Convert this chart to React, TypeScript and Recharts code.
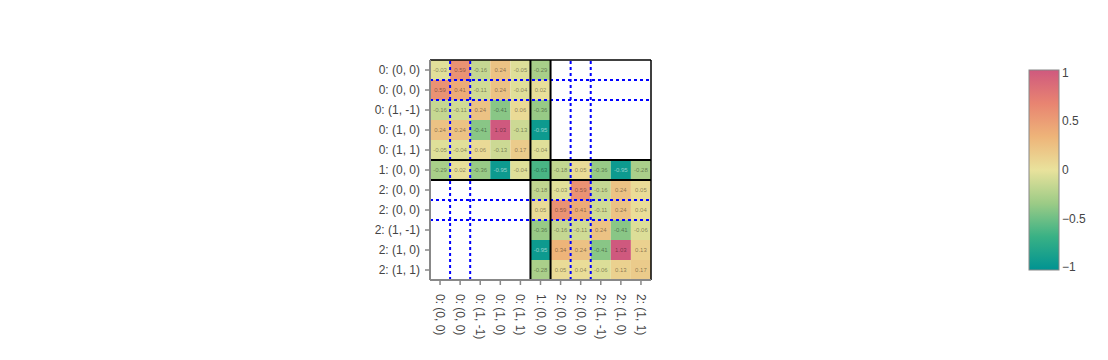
import React from 'react'
import {
  ScatterChart,
  Scatter,
  XAxis,
  YAxis,
  ReferenceArea,
  ReferenceLine,
} from 'recharts'

const labels = [
  '0: (0, 0)',
  '0: (0, 0)',
  '0: (1, -1)',
  '0: (1, 0)',
  '0: (1, 1)',
  '1: (0, 0)',
  '2: (0, 0)',
  '2: (0, 0)',
  '2: (1, -1)',
  '2: (1, 0)',
  '2: (1, 1)',
]

const _ = null
const row0 = [-0.03, 0.59, -0.16, 0.24, -0.05, -0.29, _, _, _, _, _]
const row1 = [0.59, 0.41, -0.11, 0.24, -0.04, 0.02, _, _, _, _, _]
const row2 = [-0.16, -0.11, 0.24, -0.41, 0.06, -0.36, _, _, _, _, _]
const row3 = [0.24, 0.24, -0.41, 1.03, -0.13, -0.95, _, _, _, _, _]
const row4 = [-0.05, -0.04, 0.06, -0.13, 0.17, -0.04, _, _, _, _, _]
const row5 = [-0.29, 0.02, -0.36, -0.95, -0.04, -0.63, -0.18, 0.05, -0.36, -0.95, -0.28]
const row6 = [_, _, _, _, _, -0.18, -0.03, 0.59, -0.16, 0.24, 0.05]
const row7 = [_, _, _, _, _, 0.05, 0.59, 0.41, -0.11, 0.24, 0.04]
const row8 = [_, _, _, _, _, -0.36, -0.16, -0.11, 0.24, -0.41, -0.06]
const row9 = [_, _, _, _, _, -0.95, 0.34, 0.24, -0.41, 1.03, 0.13]
const row10 = [_, _, _, _, _, -0.28, 0.05, 0.04, -0.06, 0.13, 0.17]
const rows = [row0, row1, row2, row3, row4, row5, row6, row7, row8, row9, row10]

const blockLines = [4.5, 5.5]
const dotLinesX = [0.5, 1.5, 6.5, 7.5]
const dotLinesY = [0.5, 1.5, 6.5, 7.5]
const colorTicks = [1, 0.5, 0, -0.5, -1]

const zMin = -1.03
const zMax = 1.03
const temps = [
  [0, 147, 146],
  [57, 177, 133],
  [156, 203, 134],
  [233, 226, 156],
  [238, 180, 121],
  [232, 132, 113],
  [207, 89, 126],
]

function cellRgb(v: number) {
  let t = (v - zMin) / (zMax - zMin)
  t = Math.max(0, Math.min(1, t))
  const pos = t * (temps.length - 1)
  const i = Math.min(Math.floor(pos), temps.length - 2)
  const f = pos - i
  return temps[i].map((a, k) => Math.round(a + (temps[i + 1][k] - a) * f))
}

function cellColor(v: number) {
  const c = cellRgb(v)
  return `rgb(${c[0]},${c[1]},${c[2]})`
}

// light or dark text, like the auto contrast of the original
function textColor(v: number) {
  const c = cellRgb(v)
  const b = 0.299 * c[0] + 0.587 * c[1] + 0.114 * c[2]
  return b < 128 ? 'rgba(255,255,255,0.55)' : 'rgba(0,0,0,0.45)'
}

const cells: { x: number; y: number; v: number }[] = []
rows.forEach((r, y) =>
  r.forEach((v, x) => {
    if (v !== null) cells.push({ x, y, v })
  })
)

const idx = labels.map((_l, i) => i)
const font = '"Liberation Sans", Arial, sans-serif'

const XTick = (props: any) => {
  const { x, y, payload } = props
  return (
    <text
      transform={`translate(${x},${y}) rotate(90)`}
      textAnchor="start"
      dominantBaseline="central"
      fontSize={12}
      fill="#444"
      fontFamily={font}
    >
      {labels[payload.value]}
    </text>
  )
}

const CellText = (props: any) => {
  const { cx, cy, payload } = props
  return (
    <text
      x={cx}
      y={cy}
      textAnchor="middle"
      dominantBaseline="central"
      fontSize={6}
      fill={textColor(payload.v)}
      fontFamily={font}
    >
      {payload.v.toFixed(2)}
    </text>
  )
}

function ColorBar() {
  const top = 70
  const h = 200
  const yOf = (v: number) => top + ((zMax - v) / (zMax - zMin)) * h
  return (
    <svg width={1108} height={360} style={{ position: 'absolute', left: 0, top: 0, pointerEvents: 'none' }}>
      <defs>
        <linearGradient id="temps" x1="0" y1="1" x2="0" y2="0">
          {temps.map((c, i) => (
            <stop key={i} offset={i / (temps.length - 1)} stopColor={`rgb(${c.join(',')})`} />
          ))}
        </linearGradient>
      </defs>
      <rect x={1029} y={top} width={30} height={h} fill="url(#temps)" stroke="#888" strokeWidth={1} />
      {colorTicks.map((t) => (
        <text
          key={t}
          x={1062}
          y={yOf(t)}
          dominantBaseline="central"
          fontSize={12}
          fill="#444"
          fontFamily={font}
        >
          {t < 0 ? '\u2212' + Math.abs(t) : String(t)}
        </text>
      ))}
    </svg>
  )
}

export default function App() {
  return (
    <div style={{ position: 'absolute', left: 0, top: 0, width: 1108, height: 360, background: '#fff' }}>
      <ScatterChart width={1108} height={360} margin={{ top: 60, right: 457, bottom: 20, left: 370 }}>
        <XAxis
          type="number"
          dataKey="x"
          domain={[-0.5, 10.5]}
          ticks={idx}
          interval={0}
          allowDataOverflow
          height={60}
          tickSize={5}
          tickMargin={9}
          tick={<XTick />}
          axisLine={{ stroke: '#888', strokeWidth: 2 }}
          tickLine={{ stroke: '#888', strokeWidth: 1.5 }}
        />
        <YAxis
          type="number"
          dataKey="y"
          domain={[-0.5, 10.5]}
          reversed
          ticks={idx}
          interval={0}
          allowDataOverflow
          width={60}
          tickSize={5}
          tickMargin={5}
          tickFormatter={(i: number) => labels[i]}
          tick={{ fontSize: 12, fill: '#444', fontFamily: font }}
          axisLine={{ stroke: '#888', strokeWidth: 2 }}
          tickLine={{ stroke: '#888', strokeWidth: 1.5 }}
        />
        {cells.map((d) => (
          <ReferenceArea
            key={`c${d.x}-${d.y}`}
            x1={d.x - 0.5}
            x2={d.x + 0.5}
            y1={d.y - 0.5}
            y2={d.y + 0.5}
            fill={cellColor(d.v)}
            fillOpacity={1}
            stroke="none"
          />
        ))}
        <Scatter data={cells} shape={<CellText />} isAnimationActive={false} />
        {dotLinesX.map((v) => (
          <ReferenceLine key={`dx${v}`} x={v} stroke="#0000ff" strokeWidth={2} strokeDasharray="3 3" />
        ))}
        {dotLinesY.map((v) => (
          <ReferenceLine key={`dy${v}`} y={v} stroke="#0000ff" strokeWidth={2} strokeDasharray="3 3" />
        ))}
        {blockLines.map((v) => (
          <ReferenceLine key={`bx${v}`} x={v} stroke="#000" strokeWidth={2} />
        ))}
        {blockLines.map((v) => (
          <ReferenceLine key={`by${v}`} y={v} stroke="#000" strokeWidth={2} />
        ))}
        <ReferenceLine y={-0.5} stroke="#000" strokeWidth={1.5} />
        <ReferenceLine x={10.5} stroke="#000" strokeWidth={1.5} />
      </ScatterChart>
      <ColorBar />
    </div>
  )
}
